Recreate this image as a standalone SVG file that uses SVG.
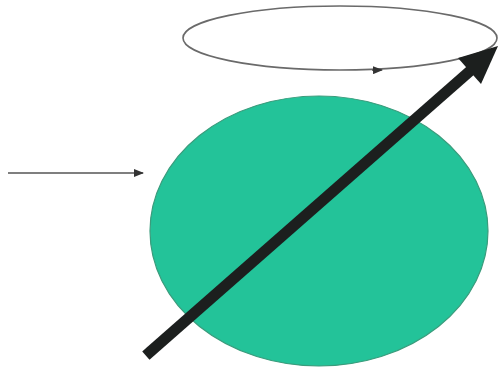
<svg xmlns="http://www.w3.org/2000/svg" width="502" height="372" viewBox="0 0 502 372">
<defs>
<marker id="thin" markerWidth="10" markerHeight="8" refX="9" refY="4" orient="auto" markerUnits="userSpaceOnUse">
<path d="M0,0 L10,4 L0,8 Z" fill="#333"/>
</marker>
</defs>
<rect width="502" height="372" fill="#fff"/>
<g id="orbit">
<ellipse cx="340" cy="38" rx="157" ry="32" fill="none" stroke="#6a6a6a" stroke-width="1.6"/>
<path d="M372,70.2 L382,70" fill="none" stroke="#333" stroke-width="1" marker-end="url(#thin)"/>
</g>
<g id="sphere">
<ellipse cx="319" cy="231" rx="169" ry="135" fill="#23c399" stroke="#3a9c7c" stroke-width="1.2"/>
</g>
<g id="connectors">
<line x1="8" y1="173" x2="143" y2="173" stroke="#555" stroke-width="1.6" marker-end="url(#thin)"/>
<line x1="150" y1="352" x2="470" y2="71" stroke="#1c1f1e" stroke-width="11" stroke-linecap="square"/>
<polygon points="498,46 481,84 458,58" fill="#1c1f1e"/>
</g>
</svg>
